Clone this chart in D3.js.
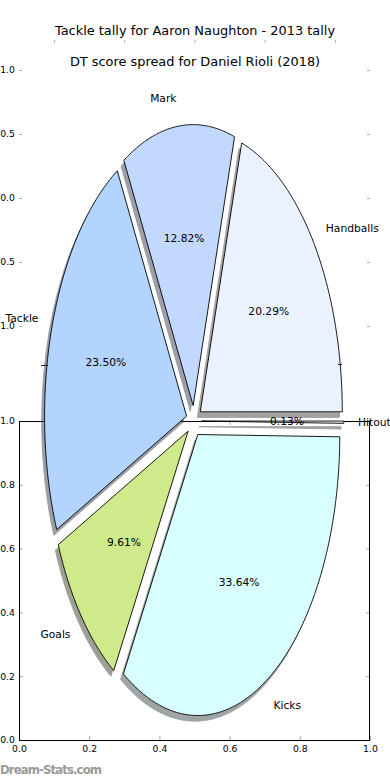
<!DOCTYPE html>
<html>
<head>
<meta charset="utf-8">
<script src="https://cdn.jsdelivr.net/npm/d3@7"></script>
<style>
  body { margin: 0; background: #fff; }
  svg { display: block; font-family: "DejaVu Sans", sans-serif; }
</style>
</head>
<body>
<div id="chart"></div>
<script>
// pie data, in drawing order (counter-clockwise from 3 o'clock)
var categories = ["Handballs", "Mark", "Tackle", "Goals", "Kicks", "Hitout"];
var shares = [20.29, 12.82, 23.50, 9.61, 33.64, 0.13];
var colours = ["#ebf2ff", "#c3d8ff", "#b3d4ff", "#cfea8a", "#d7ffff", "#eef2ff"];

// tick values for the two sets of axes
var ghostXTicks = [-1, -0.5, 0, 0.5, 1];
var ghostYTicks = [1, 0.5, 0, -0.5, -1];
var frameTicks = [0, 0.2, 0.4, 0.6, 0.8, 1.0];

var titleTop = "Tackle tally for Aaron Naughton - 2013 tally";
var titleSub = "DT score spread for Daniel Rioli (2018)";

var svgWidth = 390;
var svgHeight = 780;

var svg = d3.select("#chart")
  .append("svg")
  .attr("width", svgWidth)
  .attr("height", svgHeight);

var left = 19, right = 370;

// ---- ghost axes (ticks only, no frame) ----
var gx = d3.scaleLinear().domain([-1.25, 1.25]).range([left, right]);
var gy = d3.scaleLinear().domain([-1, 1]).range([326, 70]);

var ghost = svg.append("g").attr("class", "ghost");

ghost.append("g")
  .attr("transform", "translate(0,40)")
  .call(d3.axisTop(gx).tickValues(ghostXTicks).tickSize(-3).tickFormat(""));

ghost.append("g")
  .attr("transform", `translate(${left},0)`)
  .call(d3.axisLeft(gy).tickValues(ghostYTicks).tickSize(-3).tickPadding(4)
    .tickFormat(d3.format(".1f")));

ghost.append("g")
  .attr("transform", `translate(${right},0)`)
  .call(d3.axisRight(gy).tickValues(ghostYTicks).tickSize(-3).tickFormat(""));

ghost.selectAll(".domain").remove();
ghost.selectAll(".tick line").attr("stroke", "#b0b0b0");

// ---- framed axes at the bottom ----
var fx = d3.scaleLinear().domain([0, 1]).range([left, right]);
var fy = d3.scaleLinear().domain([0, 1]).range([740, 421]);

var frame = svg.append("g").attr("class", "frame");

frame.append("g")
  .attr("transform", "translate(0,740)")
  .call(d3.axisBottom(fx).tickValues(frameTicks).tickSize(-4).tickPadding(5)
    .tickFormat(d3.format(".1f")));
frame.append("g")
  .attr("transform", "translate(0,421)")
  .call(d3.axisTop(fx).tickValues(frameTicks).tickSize(-4).tickFormat(""));
frame.append("g")
  .attr("transform", `translate(${left},0)`)
  .call(d3.axisLeft(fy).tickValues(frameTicks).tickSize(-4).tickPadding(4)
    .tickFormat(d3.format(".1f")));
frame.append("g")
  .attr("transform", `translate(${right},0)`)
  .call(d3.axisRight(fy).tickValues(frameTicks).tickSize(-4).tickFormat(""));

frame.selectAll(".domain").remove();
frame.selectAll(".tick line").attr("stroke", "#a8a8a8");
frame.append("rect")
  .attr("x", fx(0) + 0.5)
  .attr("y", fy(1) + 0.5)
  .attr("width", fx(1) - fx(0) - 1)
  .attr("height", fy(0) - fy(1))
  .attr("fill", "none")
  .attr("stroke", "#000")
  .attr("stroke-width", 1);

svg.selectAll(".tick text")
  .attr("font-family", "DejaVu Sans")
  .attr("font-size", "9.3px")
  .attr("fill", "#000");

// ---- titles ----
svg.append("text")
  .attr("x", 195).attr("y", 34.5)
  .attr("text-anchor", "middle")
  .attr("font-size", "12.9px")
  .text(titleTop);

svg.append("text")
  .attr("x", 195).attr("y", 65.5)
  .attr("text-anchor", "middle")
  .attr("font-size", "12.9px")
  .text(titleSub);

// ---- the pie (stretched: its own x/y scales) ----
var cx = 194, cy = 421;
var px = d3.scaleLinear().domain([-1, 1]).range([cx - 142, cx + 142]);
var py = d3.scaleLinear().domain([-1, 1]).range([cy + 281, cy - 281]);
var explode = 0.055;

var total = d3.sum(shares);
var pie = d3.pie().sort(null)
  .startAngle(Math.PI / 2)
  .endAngle(Math.PI / 2 - 2 * Math.PI);

// d3 angle (clockwise from north) -> maths angle (ccw from east)
var wedges = pie(shares).map(function(a, i) {
  var t0 = Math.PI / 2 - a.startAngle;
  var t1 = Math.PI / 2 - a.endAngle;
  var tm = (t0 + t1) / 2;
  return {
    name: categories[i],
    value: a.value,
    colour: colours[i],
    t0: t0, t1: t1, tm: tm,
    ex: explode * Math.cos(tm),
    ey: explode * Math.sin(tm)
  };
});

function wedgePoints(w, dx, dy) {
  var n = Math.max(4, Math.ceil((w.t1 - w.t0) / 0.01));
  var pts = [[w.ex + dx, w.ey + dy]];
  d3.range(n + 1).forEach(function(k) {
    var t = w.t0 + (w.t1 - w.t0) * k / n;
    pts.push([w.ex + dx + Math.cos(t), w.ey + dy + Math.sin(t)]);
  });
  return pts;
}

var line = d3.line()
  .x(d => px(d[0]))
  .y(d => py(d[1]))
  .curve(d3.curveLinearClosed);

var pieGroup = svg.append("g").attr("class", "pie");

function shade(c) {
  var r = d3.rgb(c);
  return d3.rgb(r.r * 0.3, r.g * 0.3, r.b * 0.3).toString();
}

pieGroup.selectAll("path.shadow")
  .data(wedges)
  .enter()
  .append("path")
  .attr("class", "shadow")
  .attr("d", d => line(wedgePoints(d, -0.02, -0.02)))
  .attr("fill", d => shade(d.colour))
  .attr("stroke", d => shade(d.colour))
  .attr("stroke-width", 1)
  .attr("opacity", 0.5);

pieGroup.selectAll("path.wedge")
  .data(wedges)
  .enter()
  .append("path")
  .attr("class", "wedge")
  .attr("d", d => line(wedgePoints(d, 0, 0)))
  .attr("fill", d => d.colour)
  .attr("stroke", "#000")
  .attr("stroke-width", 0.9)
  .attr("stroke-linejoin", "round");

// category labels at 1.1 radius
pieGroup.selectAll("text.label")
  .data(wedges)
  .enter()
  .append("text")
  .attr("class", "label")
  .attr("x", d => px(d.ex + 1.1 * Math.cos(d.tm)))
  .attr("y", d => py(d.ey + 1.1 * Math.sin(d.tm)))
  .attr("text-anchor", d => (d.ex + 1.1 * Math.cos(d.tm)) > 0 ? "start" : "end")
  .attr("dy", "0.35em")
  .attr("font-size", "10.7px")
  .text(d => d.name);

// percentages at 0.6 radius
pieGroup.selectAll("text.pct")
  .data(wedges)
  .enter()
  .append("text")
  .attr("class", "pct")
  .attr("x", d => px(d.ex + 0.6 * Math.cos(d.tm)))
  .attr("y", d => py(d.ey + 0.6 * Math.sin(d.tm)))
  .attr("text-anchor", "middle")
  .attr("dy", "0.35em")
  .attr("font-size", "10.7px")
  .text(d => d3.format(".2f")(d.value / total * 100) + "%");

// stray ticks of the pie's own (hidden) axes
var stray = svg.append("g").attr("stroke", "#222").attr("stroke-width", 1);
stray.append("line").attr("x1", 41).attr("x2", 48).attr("y1", 365.5).attr("y2", 365.5);
stray.append("line").attr("x1", 338).attr("x2", 342).attr("y1", 364.5).attr("y2", 364.5);

// watermark
svg.append("text")
  .attr("x", 0).attr("y", 774)
  .attr("font-size", "11.7px")
  .attr("fill", "#9a9a9a")
  .attr("font-weight", "bold")
  .attr("textLength", 102)
  .text("Dream-Stats.com");
</script>
</body>
</html>
